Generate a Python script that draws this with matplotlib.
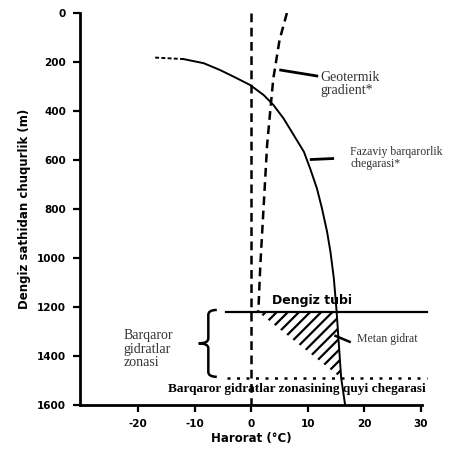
import matplotlib
matplotlib.use("Agg")
import matplotlib.pyplot as plt
from matplotlib.path import Path
from matplotlib.patches import PathPatch

plt.rcParams["axes.unicode_minus"] = False
plt.rcParams["hatch.linewidth"] = 1.6

# Hydrate phase boundary (temperature °C vs depth m)
phase_T = [-17.0, -12.0, -8.4, -5.5, -2.5, -0.2, 2.2, 3.9, 5.7, 7.5, 9.3, 10.4, 11.6,
           12.5, 13.4, 14.0, 14.6, 14.9, 15.1, 15.9, 16.6]
phase_depth = [182, 188, 205, 233, 267, 294, 335, 375, 430, 498, 566, 634, 715,
               797, 892, 974, 1082, 1164, 1220, 1490, 1600]
seafloor_idx = 18
bhsz_idx = 19

# Geothermal gradient in the water column
geo_T = [6.3, 5.0, 3.9, 3.4, 2.8, 2.2, 1.6, 1.3, 1.2]
geo_depth = [0, 110, 267, 389, 539, 784, 1028, 1191, 1220]

# Sediment temperature below the sea floor (edge of the hydrate zone)
sed_T = [1.2, 15.9]
sed_depth = [1220, 1490]

seafloor_depth = 1220
bhsz_depth = 1490

x_ticks = [-20, -10, 0, 10, 20, 30]
y_ticks = [0, 200, 400, 600, 800, 1000, 1200, 1400, 1600]

serif = ["Liberation Serif", "DejaVu Serif"]
note_color = "#333333"

fig = plt.figure(figsize=(4.54, 4.49), dpi=100)
ax = fig.add_axes([80 / 454, 1 - 405 / 449, 342 / 454, 392 / 449])
ax.set_xlim(-30.3, 30.2)
ax.set_ylim(1600, 0)

for side in ("top", "right"):
    ax.spines[side].set_visible(False)
for side in ("left", "bottom"):
    ax.spines[side].set_linewidth(2.0)

ax.set_xticks(x_ticks)
ax.set_yticks(y_ticks)
ax.tick_params(length=5, width=1.6, direction="out", pad=5)
for lab in ax.get_xticklabels() + ax.get_yticklabels():
    lab.set_fontweight("bold")
    lab.set_fontsize(7.5)

ax.set_xlabel("Harorat (°C)", fontsize=8.5, fontweight="bold", labelpad=2)
ax.set_ylabel("Dengiz sathidan chuqurlik (m)", fontsize=8.5, fontweight="bold", labelpad=4)

# 0 °C reference line
ax.plot([0, 0], [0, 1600], color="black", lw=1.8, ls=(0, (3.5, 2.2)))

# geothermal gradient in water
ax.plot(geo_T, geo_depth, color="black", lw=1.8, ls=(0, (3.5, 2.2)))

# phase boundary: dashed tail, then solid
ax.plot(phase_T[:2], phase_depth[:2], color="black", lw=1.4, ls=(0, (2, 1.2)))
ax.plot(phase_T[1:], phase_depth[1:], color="black", lw=1.4)

# hydrate stability zone in sediments (hatched)
hx = [sed_T[0], phase_T[seafloor_idx], phase_T[bhsz_idx], sed_T[1]]
hy = [sed_depth[0], phase_depth[seafloor_idx], phase_depth[bhsz_idx], sed_depth[1]]
ax.fill(hx, hy, facecolor="none", edgecolor="black", hatch="///", lw=0)

# sea floor
ax.plot([-4.5, 31], [seafloor_depth, seafloor_depth], color="black", lw=1.6, clip_on=False)
ax.text(10.8, 1172, "Dengiz tubi", ha="center", va="center", fontsize=9, fontweight="bold")

# base of hydrate stability zone
ax.plot([-4.3, 31], [bhsz_depth, bhsz_depth], color="black", lw=1.8,
        ls=(0, (1.2, 2.6)), clip_on=False)
ax.text(8.0, 1536, "Barqaror gidratlar zonasining quyi chegarasi", ha="center", va="center",
        fontsize=9.6, fontweight="bold", family=serif)

# callouts
ax.plot([5.2, 11.6], [233, 257], color="black", lw=2.0)
ax.text(12.2, 290, "Geotermik\ngradient*", ha="left", va="center", fontsize=10,
        family=serif, color=note_color, linespacing=1.0)

ax.plot([10.6, 14.4], [598, 594], color="black", lw=2.0)
ax.text(17.5, 590, "Fazaviy barqarorlik\nchegarasi*", ha="left", va="center", fontsize=8.5,
        family=serif, color=note_color, linespacing=1.0)

ax.plot([14.9, 17.4], [1318, 1342], color="black", lw=1.8)
ax.text(18.7, 1330, "Metan gidrat", ha="left", va="center", fontsize=8.5,
        family=serif, color=note_color)

# brace marking the stability zone
bx, tip = -7.6, -9.3
top, bot = seafloor_depth - 8, bhsz_depth - 5
mid = (top + bot) / 2
verts = [(bx + 1.5, top), (bx, top), (bx, top + 20),
         (bx, mid - 20), (bx, mid), (tip, mid),
         (bx, mid), (bx, mid + 20),
         (bx, bot - 20), (bx, bot), (bx + 1.5, bot)]
codes = [Path.MOVETO, Path.CURVE3, Path.CURVE3,
         Path.LINETO, Path.CURVE3, Path.CURVE3,
         Path.CURVE3, Path.CURVE3,
         Path.LINETO, Path.CURVE3, Path.CURVE3]
ax.add_patch(PathPatch(Path(verts, codes), facecolor="none", edgecolor="black", lw=1.8))
ax.text(-22.6, 1372, "Barqaror\ngidratlar\nzonasi", ha="left", va="center", fontsize=10,
        family=serif, color=note_color, linespacing=1.05)

fig.savefig("out.png", dpi=100)
